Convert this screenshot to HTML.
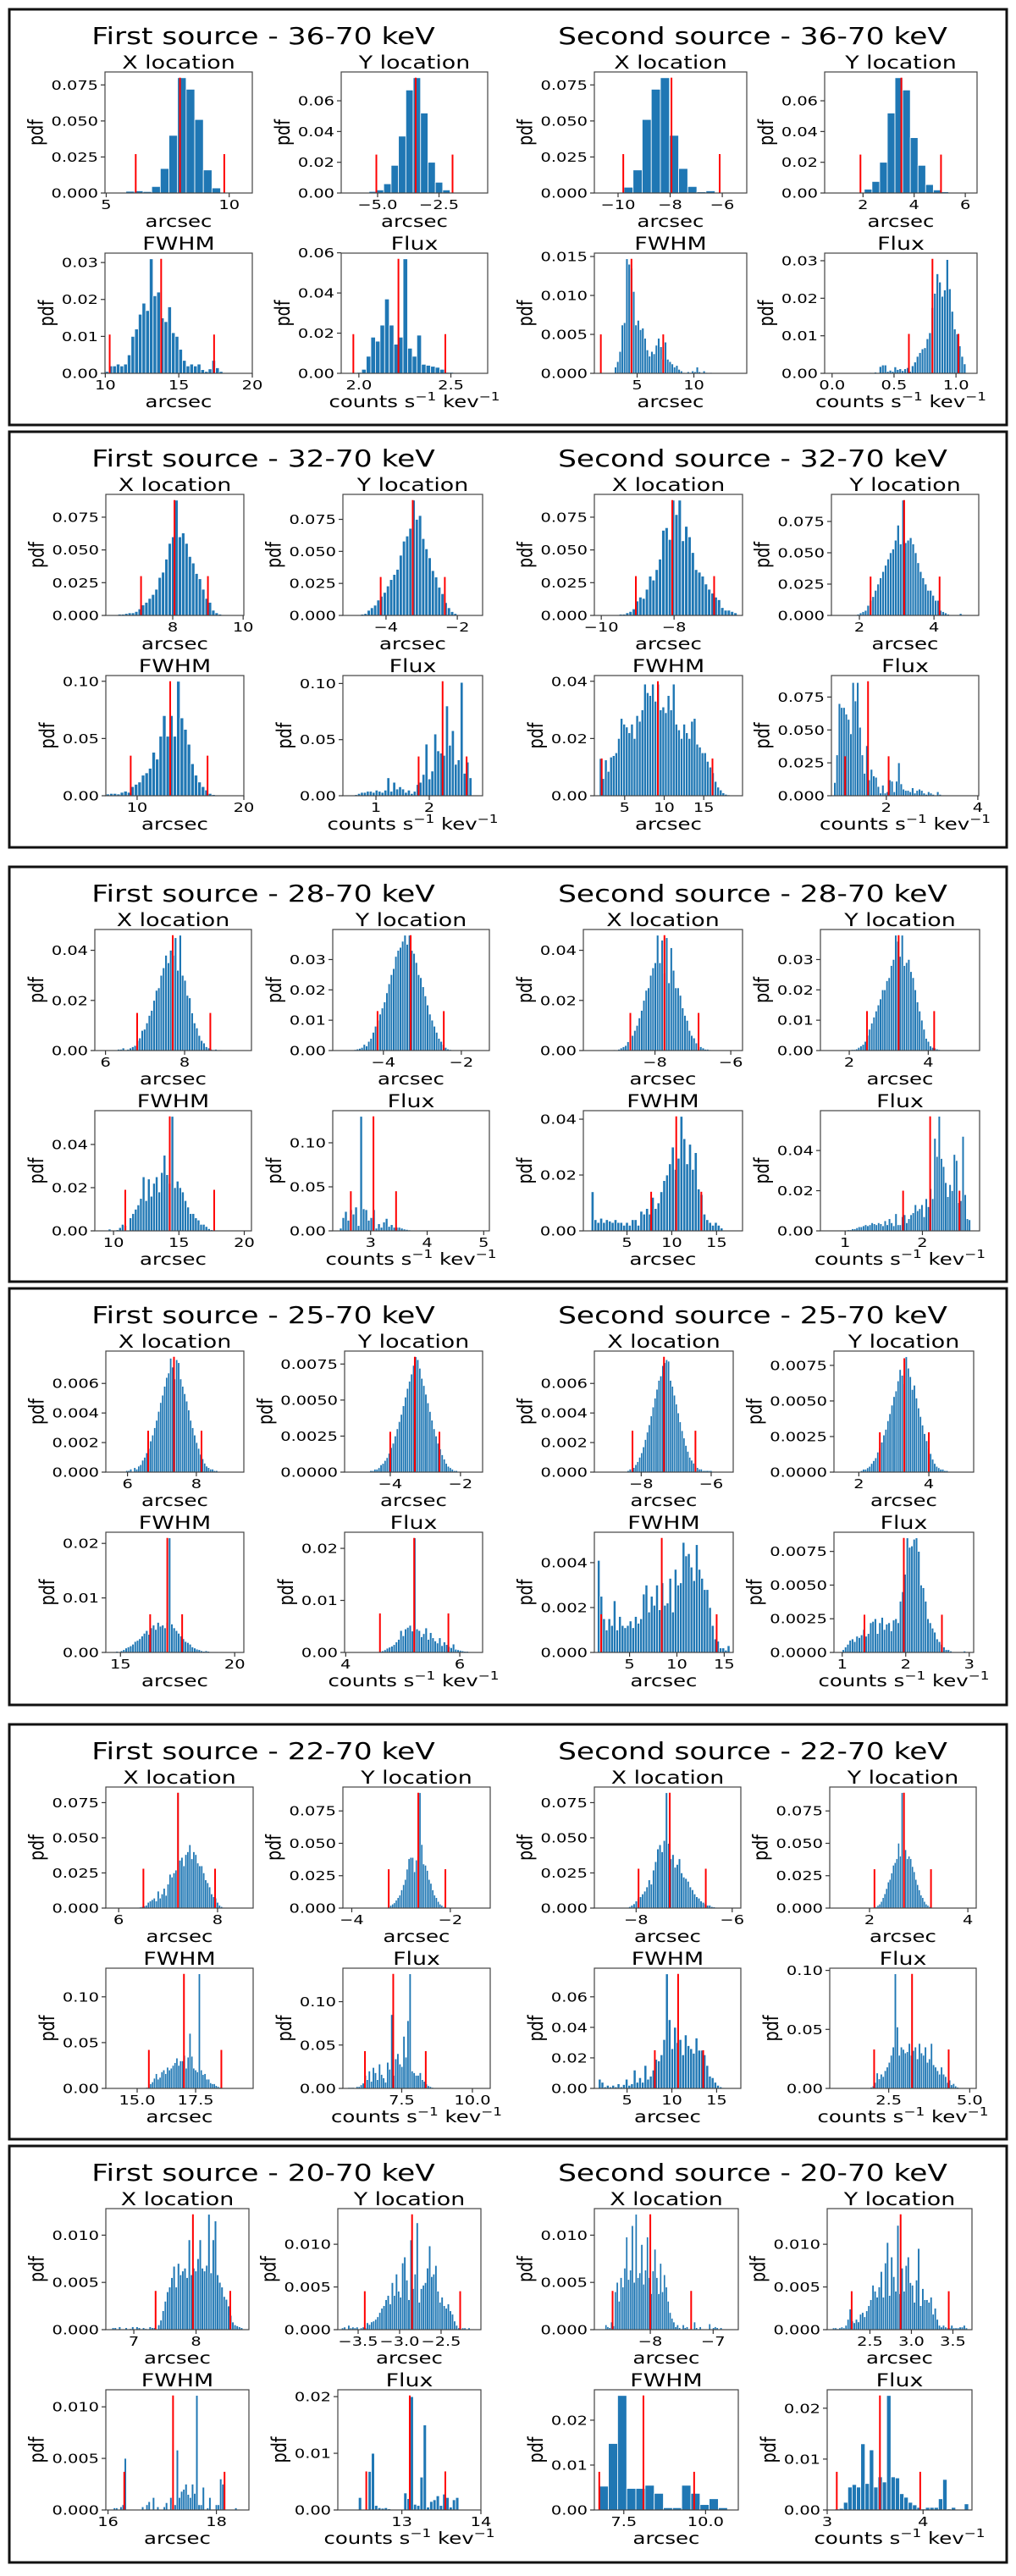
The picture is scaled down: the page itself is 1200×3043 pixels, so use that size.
<!DOCTYPE html>
<html><head><meta charset="utf-8"><style>
html,body{margin:0;padding:0;background:#fff;}
svg text{font-family:"DejaVu Sans","Liberation Sans",sans-serif;fill:#000;}
</style></head><body>
<svg id="fig" xmlns="http://www.w3.org/2000/svg" width="1200" height="3038" viewBox="0 0 1200 3038"></svg>
<script>
// ---------- Box 1 : 36-70 keV ----------
var b1a_h=[.0005,.0012,.0015,.001,.0045,.017,.04,.08,.072,.051,.016,.0035,0,.0003];
var b1a_bin=[5.45,.35]; var b1a_red=[6.2,8.0,9.8]; var b1a_redH=[.027,.08,.027]; var b1a_xlim=[4.95,10.94]; var b1a_xt=[5,10]; var b1a_yt=[0,.025,.05,.075];
var b1b_h=[.001,.002,.006,.018,.037,.067,.075,.052,.02,.007,.002];
var b1b_bin=[-5.35,.3]; var b1b_red=[-5.05,-3.45,-1.95]; var b1b_redH=[.025,.075,.025]; var b1b_xlim=[-6.48,-0.52]; var b1b_xt=[-5.0,-2.5]; var b1b_yt=[0,.02,.04,.06];
var b1c_h=[.0005,.002,.002,.0025,.002,.0025,.005,.01,.012,.016,.019,.017,.031,.021,.022,.015,.014,.018,.011,.01,.0065,.0035,.002,.0025,.002,.0025,.001,.0005,.0012,.0035,.0015,.0005,.0002,.0001,0,.0001];
var b1c_bin=[10,.25]; var b1c_red=[10.3,13.8,17.4]; var b1c_redH=[.0105,.031,.0105]; var b1c_xlim=[9.98,20.0]; var b1c_xt=[10,15,20]; var b1c_yt=[0,.01,.02,.03];
var b1d_h=[.0005,.002,.0085,.018,.016,.024,.037,.024,.0145,.018,.057,.0125,.0085,.019,.0045,.004,.0035,.003,.002,.0005,.0005,.0003];
var b1d_bin=[1.99,.025]; var b1d_red=[1.97,2.215,2.47]; var b1d_redH=[.0195,.057,.0195]; var b1d_xlim=[1.904,2.70]; var b1d_xt=[2.0,2.5]; var b1d_yt=[0,.02,.04,.06];
var b1e_h=[.004,.016,.051,.072,.08,.04,.017,.0045,.0008,.0015,.0005];
var b1e_bin=[-9.775,.35]; var b1e_red=[-9.8,-7.95,-6.1]; var b1e_redH=[.027,.08,.027]; var b1e_xlim=[-10.91,-5.06]; var b1e_xt=[-10,-8,-6]; var b1e_yt=[0,.025,.05,.075];
var b1f_h=[.0005,.0025,.0075,.02,.052,.075,.067,.036,.018,.0055,.002,.0008];
var b1f_bin=[1.75,.3]; var b1f_red=[1.9,3.5,5.05]; var b1f_redH=[.025,.075,.025]; var b1f_xlim=[0.5,6.46]; var b1f_xt=[2,4,6]; var b1f_yt=[0,.02,.04,.06];
var b1g_h=[.0008,.0015,.0028,.0062,.0065,.0147,.014,.0135,.0105,.0062,.0068,.0056,.0058,.0045,.003,.0022,.0028,.0025,.0036,.0045,.0034,.0018,.004,.0018,.0015,.0012,.0008,.001,.0005,.0003,.0001,0,.0002,.0001,.0003,.0002,.0008,.0002,.0001,.0003,.0001,0,.0001];
var b1g_bin=[3.0,.2]; var b1g_red=[1.8,4.5,7.3]; var b1g_redH=[.005,.0147,.005]; var b1g_xlim=[1.23,14.66]; var b1g_xt=[5,10]; var b1g_yt=[0,.005,.01,.015];
var b1h_h=[.0002,0,.0003,0,.0018,.0022,.0022,.0005,.0008,.0005,.0017,.001,.0012,.0007,.0012,.0015,.0005,.002,.003,.0045,.0055,.0065,.0068,.0092,.0108,.0175,.0213,.0265,.0243,.0205,.0222,.0303,.0225,.0165,.0118,.0105,.0073,.0045,.0025];
var b1h_bin=[0.3,.02]; var b1h_red=[0.62,0.81,1.02]; var b1h_redH=[.0105,.0305,.0105]; var b1h_xlim=[-0.06,1.17]; var b1h_xt=[0.0,0.5,1.0]; var b1h_yt=[0,.01,.02,.03];
// ---------- Box 2 : 32-70 keV ----------
var b2a_h=[.0005,.001,.001,.0015,.002,.002,.003,.005,.008,.01,.013,.016,.02,.029,.033,.043,.055,.06,.088,.06,.063,.055,.045,.04,.032,.028,.02,.013,.01,.004,.002,.001,.0005,.0003];
var b2a_bin=[6.35,.095]; var b2a_red=[7.1,8.05,9.0]; var b2a_redH=[.03,.088,.03]; var b2a_xlim=[6.1,10.02]; var b2a_xt=[8,10]; var b2a_yt=[0,.025,.05,.075];
var b2b_h=[.0005,.001,.0015,.004,.006,.008,.012,.015,.018,.023,.028,.032,.036,.047,.058,.062,.068,.09,.075,.078,.06,.052,.045,.035,.03,.022,.017,.01,.006,.003,.0015,.0005];
var b2b_bin=[-4.8,.09]; var b2b_red=[-4.15,-3.25,-2.35]; var b2b_redH=[.03,.09,.03]; var b2b_xlim=[-5.21,-1.29]; var b2b_xt=[-4,-2]; var b2b_yt=[0,.025,.05,.075];
var b2c_h=[.0015,.002,.002,.0015,.003,.004,.003,.008,.01,.012,.018,.02,.024,.038,.032,.052,.07,.052,.07,.052,.1,.068,.058,.045,.028,.018,.012,.008,.005,.002,.001,.0005,.0003];
var b2c_bin=[7.1,.33]; var b2c_red=[9.4,13.1,16.6]; var b2c_redH=[.035,.1,.035]; var b2c_xlim=[7.07,20.0]; var b2c_xt=[10,20]; var b2c_yt=[0,.05,.10];
var b2d_h=[.001,.002,.003,.003,.004,.004,.003,.005,.004,.003,.005,.016,.004,.012,.006,.008,.006,.003,.005,.002,.004,.01,.012,.019,.046,.015,.022,.055,.04,.038,.036,.08,.045,.058,.028,.032,.101,.02,.03,.016];
var b2d_bin=[0.6,.055]; var b2d_red=[1.8,2.25,2.7]; var b2d_redH=[.035,.102,.035]; var b2d_xlim=[0.38,3.0]; var b2d_xt=[1,2]; var b2d_yt=[0,.05,.10];
var b2e_h=[.0005,.001,.001,.002,.003,.005,.011,.014,.013,.02,.03,.027,.035,.043,.065,.067,.058,.088,.077,.088,.057,.068,.06,.048,.035,.033,.03,.024,.02,.017,.014,.012,.006,.004,.004,.003,.002];
var b2e_bin=[-9.6,.09]; var b2e_red=[-9.05,-8.05,-6.9]; var b2e_redH=[.03,.088,.03]; var b2e_xlim=[-10.19,-6.12]; var b2e_xt=[-10,-8]; var b2e_yt=[0,.025,.05,.075];
var b2f_h=[.0003,.0005,.001,.002,.003,.004,.008,.012,.015,.02,.025,.03,.035,.04,.045,.05,.053,.06,.072,.057,.092,.058,.06,.062,.057,.05,.042,.035,.03,.025,.02,.02,.016,.012,.012,.004,.003,.002,.001,0,0,0,0,.0015];
var b2f_bin=[1.8,.067]; var b2f_red=[2.3,3.2,4.15]; var b2f_redH=[.031,.092,.031]; var b2f_xlim=[1.25,5.2]; var b2f_xt=[2,4]; var b2f_yt=[0,.025,.05,.075];
var b2g_h=[.013,.006,.0125,.0085,.0135,.014,.015,.02,.027,.025,.024,.022,.025,.02,.028,.026,.03,.039,.036,.035,.039,.033,.039,.03,.031,.029,.035,.03,.039,.025,.023,.02,.025,.022,.02,.026,.027,.018,.017,.015,.015,.012,.01,.008,.005,.003,.002,.001,.0005,.0003];
var b2g_bin=[1.8,.33]; var b2g_red=[2.1,9.2,16.1]; var b2g_redH=[.013,.04,.013]; var b2g_xlim=[1.17,19.9]; var b2g_xt=[5,10,15]; var b2g_yt=[0,.02,.04];
var b2h_h=[.01,.031,.07,.067,.067,.062,.058,.047,.086,.072,.086,.052,.031,.017,.038,.012,.02,.015,.014,.007,.002,.008,.002,.003,.012,.011,.003,.011,.025,.009,.005,.004,.004,.003,.006,.002,.004,.005,.004,.002,.001,.003,.002,.001,0,.003,.001];
var b2h_bin=[0.85,.05]; var b2h_red=[1.1,1.6,2.05]; var b2h_redH=[.03,.087,.03]; var b2h_xlim=[0.8,4.02]; var b2h_xt=[2,4]; var b2h_yt=[0,.025,.05,.075];
// ---------- Box 3 : 28-70 keV ----------
var b3a_h=[.0005,.0005,.001,0,.0005,.001,.0015,.002,.004,.005,.008,.0085,.011,.014,.016,.02,.024,.025,.03,.033,.038,.035,.04,.038,.045,.032,.046,.03,.028,.022,.021,.015,.011,.009,.006,.004,.003,.0015,.001,.0005,.0003,.0005,0,.0003];
var b3a_bin=[6.3,.06]; var b3a_red=[6.8,7.7,8.65]; var b3a_redH=[.015,.046,.015]; var b3a_xlim=[5.73,9.69]; var b3a_xt=[6,8]; var b3a_yt=[0,.02,.04];
var b3b_h=[.0003,.0005,.0007,.001,.002,.0015,.003,.004,.006,.008,.01,.012,.014,.016,.019,.022,.025,.027,.031,.033,.034,.036,.038,.035,.038,.033,.032,.029,.025,.024,.021,.018,.015,.012,.01,.008,.006,.004,.003,.002,.001,.0005,.0003];
var b3b_bin=[-4.75,.058]; var b3b_red=[-4.15,-3.3,-2.45]; var b3b_redH=[.013,.038,.013]; var b3b_xlim=[-5.3,-1.28]; var b3b_xt=[-4,-2]; var b3b_yt=[0,.01,.02,.03];
var b3c_h=[.0008,0,0,.0005,.0015,.003,.0025,0,.006,.008,.01,.012,.015,.025,.014,.024,.016,.022,.025,.018,.027,.035,.026,.022,.053,.02,.023,.02,.018,.014,.011,.008,.008,.006,.005,.003,.003,.002,.001,.0005,.0005,.0003,.0002];
var b3c_bin=[9.6,.2]; var b3c_red=[10.9,14.3,17.7]; var b3c_redH=[.019,.053,.019]; var b3c_xlim=[8.57,20.55]; var b3c_xt=[10,15,20]; var b3c_yt=[0,.02,.04];
var b3d_h=[.003,.015,.022,.012,.024,.019,.027,.006,.13,.025,.024,.012,.015,.024,.003,.008,.004,.01,.014,.005,.007,.004,.004,.004,.003,.002,.0015,.001,.0008,.0005,.0003,.0002,.0002,.0001];
var b3d_bin=[2.45,.045]; var b3d_red=[2.65,3.05,3.45]; var b3d_redH=[.045,.13,.045]; var b3d_xlim=[2.33,5.1]; var b3d_xt=[3,4,5]; var b3d_yt=[0,.05,.10];
var b3e_h=[.0003,0,.0005,.001,.0015,.002,.0035,.004,.006,.008,.01,.013,.016,.02,.024,.025,.03,.033,.035,.046,.035,.044,.031,.045,.027,.041,.032,.025,.025,.022,.017,.014,.012,.008,.006,.005,.003,.002,.0015,.001,.0005,.0005,.0003];
var b3e_bin=[-9.1,.06]; var b3e_red=[-8.65,-7.75,-6.85]; var b3e_redH=[.015,.046,.015]; var b3e_xlim=[-9.89,-5.69]; var b3e_xt=[-8,-6]; var b3e_yt=[0,.02,.04];
var b3f_h=[.0003,.0003,.0005,.001,.0015,.002,.003,.005,.007,.009,.011,.013,.015,.017,.02,.02,.023,.024,.028,.03,.038,.036,.031,.038,.028,.029,.03,.026,.024,.02,.016,.013,.01,.007,.004,.003,.0015,.001,.0008,.0005,.0003,.0002,0,.0002];
var b3f_bin=[2.05,.055]; var b3f_red=[2.45,3.25,4.15]; var b3f_redH=[.013,.038,.013]; var b3f_xlim=[1.27,5.3]; var b3f_xt=[2,4]; var b3f_yt=[0,.01,.02,.03];
var b3g_h=[.014,.004,.003,.0045,.003,.004,.0035,.003,.004,.003,.003,.002,.003,.002,.004,.004,.002,.007,.006,.008,.006,.012,.008,.01,.014,.018,.02,.024,.03,.022,.026,.041,.033,.024,.031,.022,.028,.015,.013,.006,.004,.003,.002,.003,.002,.001];
var b3g_bin=[1.0,.32]; var b3g_red=[7.7,10.5,13.3]; var b3g_redH=[.014,.041,.014]; var b3g_xlim=[0.13,17.9]; var b3g_xt=[5,10,15]; var b3g_yt=[0,.02,.04];
var b3h_h=[.0003,.0005,.0005,.001,.001,.0015,.002,.002,.0025,.003,.0025,.003,.004,.0035,.003,.004,.0035,.0025,.005,.003,.006,.004,.0025,.0085,.003,.003,.007,.008,.004,.006,.008,.009,.013,.01,.011,.013,.007,.016,.012,.021,.016,.046,.037,.057,.036,.032,.024,.017,.023,.02,.038,.035,.014,.015,.047,.018,.006,.0055];
var b3h_bin=[1.0,.028]; var b3h_red=[1.75,2.1,2.48]; var b3h_redH=[.02,.057,.02]; var b3h_xlim=[0.68,2.74]; var b3h_xt=[1,2]; var b3h_yt=[0,.02,.04];
// ---------- Box 4 : 25-70 keV ----------
var b4a_h=[.0001,.0001,.0002,0,.0003,.0002,.0004,.0005,.0008,.001,.0013,.0016,.0021,.0025,.003,.0035,.0041,.0047,.0052,.0058,.0064,.0067,.0077,.0071,.0063,.0076,.0074,.0063,.0058,.0053,.0048,.0042,.0035,.003,.0025,.002,.0016,.0012,.0009,.0006,.0004,.0003,.0002,.0002,.0001,.0001];
var b4a_bin=[5.95,.058]; var b4a_red=[6.6,7.35,8.15]; var b4a_redH=[.0028,.0078,.0028]; var b4a_xlim=[5.37,9.38]; var b4a_xt=[6,8]; var b4a_yt=[0,.002,.004,.006];
var b4b_h=[.0001,.0001,.0002,.0002,.0003,.0005,.0006,.0008,.001,.0013,.0017,.002,.0025,.003,.0035,.004,.0046,.0052,.0058,.0063,.0068,.0074,.008,.0078,.0072,.0065,.006,.0054,.0048,.0042,.0036,.003,.0025,.002,.0016,.0012,.0009,.0006,.0004,.0003,.0002,.0001,.0001];
var b4b_bin=[-4.58,.058]; var b4b_red=[-4.0,-3.3,-2.6]; var b4b_redH=[.0028,.008,.0028]; var b4b_xlim=[-5.3,-1.37]; var b4b_xt=[-4,-2]; var b4b_yt=[0,.0025,.005,.0075];
var b4c_h=[.0001,.0002,.0001,.0003,.0005,.0008,.001,.0012,.0015,.002,.0022,.0025,.003,.0035,.004,.0033,.0045,.005,.0042,.0055,.0048,.005,.0045,.0055,.021,.0052,.0045,.004,.0035,.003,.0025,.002,.0018,.0015,.001,.0008,.0006,.0005,.0003,.0002,.0003,.0002,.0001,.0001,.0001,.0001];
var b4c_bin=[14.7,.1]; var b4c_red=[16.3,17.05,17.7]; var b4c_redH=[.007,.021,.007]; var b4c_xlim=[14.36,20.4]; var b4c_xt=[15,20]; var b4c_yt=[0,.01,.02];
var b4d_h=[.0001,.0002,.0003,.0005,.0008,.001,.0012,.0015,.002,.0025,.0042,.0032,.0045,.0048,.0052,.0041,.022,.0045,.0042,.003,.0036,.0047,.0025,.0038,.0028,.0022,.0018,.0028,.0013,.002,.0015,.0011,.0009,.0016,.0006,.0005,.0004,.0003,.0002,.0002];
var b4d_bin=[4.55,.04]; var b4d_red=[4.6,5.2,5.8]; var b4d_redH=[.0075,.022,.0075]; var b4d_xlim=[3.98,6.4]; var b4d_xt=[4,6]; var b4d_yt=[0,.01,.02];
var b4e_h=[.0001,.0002,.0002,.0003,.0005,.0007,.001,.0013,.0017,.0022,.0027,.0032,.0038,.0044,.005,.0056,.0062,.0065,.0072,.0074,.0076,.0075,.0062,.0058,.0052,.0046,.004,.0034,.0028,.0023,.0018,.0014,.001,.0008,.0006,.0004,.0003,.0002,.0002,.0001,.0001,.0001,.0001,.0001,0];
var b4e_bin=[-8.4,.055]; var b4e_red=[-8.25,-7.35,-6.45]; var b4e_redH=[.0028,.0078,.0028]; var b4e_xlim=[-9.34,-5.37]; var b4e_xt=[-8,-6]; var b4e_yt=[0,.002,.004,.006];
var b4f_h=[.0001,.0002,.0002,.0003,.0004,.0006,.0008,.001,.0014,.0017,.0021,.0026,.003,.0036,.0041,.0047,.0053,.0057,.0064,.0072,.0068,.0062,.0081,.0073,.0067,.0058,.0061,.0052,.0045,.0039,.0033,.0027,.0022,.0017,.0013,.0009,.0006,.0004,.0003,.0002,.0002,.0001,.0001];
var b4f_bin=[2.05,.058]; var b4f_red=[2.6,3.3,4.0]; var b4f_redH=[.0028,.008,.0028]; var b4f_xlim=[1.29,5.28]; var b4f_xt=[2,4]; var b4f_yt=[0,.0025,.005,.0075];
var b4g_h=[.0041,.0025,.0015,.001,.0015,.0012,.0023,.001,.0016,.0012,.0011,.0012,.0014,.0011,.0016,.0013,.0015,.0026,.003,.0018,.0025,.0021,.003,.0019,.0031,.0021,.0022,.0033,.0018,.0037,.003,.0031,.0049,.0043,.0044,.0038,.0032,.0048,.0037,.0033,.0028,.0028,.002,.0012,.0006,.0005,.0002,.0002,.0001,.0003];
var b4g_bin=[1.6,.28]; var b4g_red=[2.0,8.4,14.2]; var b4g_redH=[.0017,.0051,.0017]; var b4g_xlim=[1.28,15.95]; var b4g_xt=[5,10,15]; var b4g_yt=[0,.002,.004];
var b4h_h=[.0002,.0004,.0006,.0009,.001,.0008,.0012,.0011,.0013,.0017,.0012,.0014,.0022,.0023,.0025,.0014,.0022,.0026,.0017,.0021,.0022,.0016,.0024,.0025,.0022,.0038,.0045,.0058,.0085,.0078,.0079,.0084,.0085,.0075,.005,.0048,.0038,.0025,.0022,.0018,.0015,.001,.0008,.0006,.0004,.0002,.0002,.0001,0,0,0,0,0,.0001];
var b4h_bin=[1.0,.036]; var b4h_red=[1.35,1.97,2.57]; var b4h_redH=[.0028,.0085,.0028]; var b4h_xlim=[0.87,3.07]; var b4h_xt=[1,2,3]; var b4h_yt=[0,.0025,.005,.0075];
// ---------- Box 5 : 22-70 keV ----------
var b5a_h=[.0003,.0003,.0005,.0007,.001,.0015,.002,.004,.005,.006,.007,.005,.012,.007,.01,.014,.009,.017,.024,.022,.025,.027,.082,.034,.036,.03,.038,.04,.045,.035,.04,.038,.032,.03,.03,.025,.02,.018,.015,.01,.008,.007,.004,.002,.001,.0005,.0003];
var b5a_bin=[6.3,.04]; var b5a_red=[6.5,7.2,7.95]; var b5a_redH=[.028,.082,.028]; var b5a_xlim=[5.74,8.72]; var b5a_xt=[6,8]; var b5a_yt=[0,.025,.05,.075];
var b5b_h=[.0005,.001,.002,.003,.004,.006,.008,.01,.014,.018,.022,.03,.038,.039,.039,.028,.037,.04,.089,.049,.034,.033,.029,.022,.019,.014,.01,.008,.005,.003,.002,.001,.0005,.0003];
var b5b_bin=[-3.3,.037]; var b5b_red=[-3.25,-2.65,-2.1]; var b5b_redH=[.03,.089,.03]; var b5b_xlim=[-4.18,-1.19]; var b5b_xt=[-4,-2]; var b5b_yt=[0,.025,.05,.075];
var b5c_h=[.0005,.001,.002,.005,.007,.011,.016,.01,.012,.018,.02,.016,.023,.02,.022,.025,.028,.033,.025,.03,.03,.036,.022,.034,.06,.035,.022,.02,.018,.125,.02,.015,.016,.01,.01,.006,.005,.005,.003,.002,.001,.0008,.0005,.0003];
var b5c_bin=[15.3,.08]; var b5c_red=[15.5,17.0,18.6]; var b5c_redH=[.042,.125,.042]; var b5c_xlim=[13.66,19.96]; var b5c_xt=[15.0,17.5]; var b5c_yt=[0,.05,.10];
var b5d_h=[.001,.001,.001,.0005,.002,.002,.004,.006,.015,.01,.02,.008,.024,.018,.01,.028,.016,.012,.007,.03,.022,.085,.015,.034,.04,.028,.025,.06,.036,.078,.132,.02,.018,.015,.015,.018,.01,.008,.005,.003,.002,.001,.0005];
var b5d_bin=[5.6,.072]; var b5d_red=[6.2,7.2,8.35]; var b5d_redH=[.043,.132,.043]; var b5d_xlim=[5.42,10.63]; var b5d_xt=[7.5,10.0]; var b5d_yt=[0,.05,.10];
var b5e_h=[.0005,.001,.002,.003,.005,.007,.008,.01,.012,.015,.02,.017,.027,.033,.042,.045,.04,.048,.082,.046,.035,.038,.029,.031,.035,.025,.022,.021,.019,.015,.013,.01,.008,.007,.005,.004,.003,.002,.002,.001,.0008,.0005,.0003];
var b5e_bin=[-8.2,.045]; var b5e_red=[-7.95,-7.3,-6.55]; var b5e_redH=[.028,.082,.028]; var b5e_xlim=[-8.87,-5.82]; var b5e_xt=[-8,-6]; var b5e_yt=[0,.025,.05,.075];
var b5f_h=[.0005,.0005,.001,.002,.003,.005,.008,.011,.015,.02,.022,.027,.033,.035,.038,.05,.04,.089,.088,.045,.038,.04,.038,.032,.028,.022,.018,.014,.01,.008,.005,.003,.002,.001,.0005,.0003,.0002,.0001,0,.0002];
var b5f_bin=[2.05,.035]; var b5f_red=[2.1,2.7,3.25]; var b5f_redH=[.03,.089,.03]; var b5f_xlim=[1.19,4.17]; var b5f_xt=[2,4]; var b5f_yt=[0,.025,.05,.075];
var b5g_h=[.006,.004,.001,.002,.001,.002,.001,.003,.001,.0025,.006,.002,.003,.012,.004,.007,.004,.015,.006,.008,.012,.019,.018,.022,.032,.075,.045,.026,.04,.03,.032,.022,.035,.028,.026,.023,.033,.025,.025,.022,.015,.008,.007,.004,.002,.001,.0005];
var b5g_bin=[1.8,.3]; var b5g_red=[8.1,10.7,13.5]; var b5g_redH=[.025,.075,.025]; var b5g_xlim=[1.35,17.7]; var b5g_xt=[5,10,15]; var b5g_yt=[0,.02,.04,.06];
var b5h_h=[.0003,0,0,0,0,0,0,0,0,0,0,0,0,0,0,.001,.002,.005,.013,.008,.012,.01,.015,.018,.022,.028,.035,.097,.052,.028,.035,.033,.03,.031,.038,.028,.032,.035,.025,.038,.03,.028,.035,.022,.025,.038,.02,.018,.015,.012,.018,.012,.01,.005,.007,.003,.004,.002,.001,.0005,.0002,.0001,0];
var b5h_bin=[1.0,.062]; var b5h_red=[2.05,3.22,4.35]; var b5h_redH=[.033,.097,.033]; var b5h_xlim=[0.68,5.2]; var b5h_xt=[2.5,5.0]; var b5h_yt=[0,.05,.10];
// ---------- Box 6 : 20-70 keV ----------
var b6a_h=[.0002,.0002,0,.0003,0,0,.0002,0,.0001,.0003,0,.0003,.0002,0,.0002,.0001,0,.0003,.0002,.0002,0,.0005,.001,.002,.003,.004,.0045,.0055,.0067,.0045,.007,.0058,.0062,.0065,.0055,.0095,.0058,.0065,.0062,.0075,.0095,.0065,.0062,.0068,.0122,.006,.0095,.0115,.0058,.005,.0045,.0035,.0032,.0025,.0015,.0008,.0005,.0004,.0003,.0002];
var b6a_bin=[6.65,.035]; var b6a_red=[7.35,7.95,8.55]; var b6a_redH=[.0041,.0122,.0041]; var b6a_xlim=[6.55,8.85]; var b6a_xt=[7,8]; var b6a_yt=[0,.005,.01];
var b6b_h=[.0002,.0003,0,.0005,.0002,.0003,.0002,.0003,0,.0002,.0003,.0002,.0008,.0006,.0009,.001,.0012,.0015,.002,.0025,.0028,.0035,.004,.003,.0055,.004,.0065,.0045,.0038,.0078,.0085,.0058,.0035,.0105,.0048,.0065,.0125,.0032,.0048,.0052,.0055,.0072,.0098,.0062,.0065,.0075,.0045,.0032,.0038,.0028,.0025,.003,.0022,.0018,.001,.0005,.0002,.0001,.0002,.0002,0,.0002];
var b6b_bin=[-3.7,.025]; var b6b_red=[-3.42,-2.85,-2.27]; var b6b_redH=[.0045,.0135,.0045]; var b6b_xlim=[-3.745,-2.02]; var b6b_xt=[-3.5,-3.0,-2.5]; var b6b_yt=[0,.005,.01];
var b6c_h=[.0002,.0002,0,.0003,.0005,.005,0,0,0,0,0,0,0,.0003,0,.0005,.0008,0,.0012,0,.0003,0,0,.0003,.0007,0,.0012,.0005,.0005,.0058,.0012,.0018,.002,.0025,.0015,.0012,.0025,.0016,.0111,.0005,.0005,.0022,0,.0002,.0012,0,0,.0005,.0005,.003,.0025,0,0,0,0,0,.0002,0,0,0,0];
var b6c_bin=[16.1,.04]; var b6c_red=[16.3,17.2,18.15]; var b6c_redH=[.0037,.0111,.0037]; var b6c_xlim=[15.96,18.6]; var b6c_xt=[16,18]; var b6c_yt=[0,.005,.01];
var b6d_h=[.0022,0,0,.0068,.01,.0008,.0004,.0003,.0004,.0002,0,.0001,0,0,.003,.002,.02,.001,.0008,.0058,.015,.0005,.0015,.0018,.0025,.0008,.0028,.0022,.0005,.0018,.0022];
var b6d_bin=[12.45,.041]; var b6d_red=[12.55,13.1,13.55]; var b6d_redH=[.0068,.0202,.0068]; var b6d_xlim=[12.19,14.0]; var b6d_xt=[13,14]; var b6d_yt=[0,.01,.02];
var b6e_h=[.0005,.0003,.0002,.0008,.0004,.004,.005,.003,.0055,.0045,.0065,.0098,.0053,.0063,.011,.005,.0122,.0055,.006,.009,.0048,.0063,.0098,.0055,.0038,.0062,.0085,.0055,.0038,.007,.004,.0058,.0045,.003,.0018,.0012,.0008,.0003,.0005,.0002,0,.0005,.0002,.0003,0,0,0,.0008,.0002,0,.0003,0,0,0,0,.0006,0,.0002,.0003,.0002,0,.0002];
var b6e_bin=[-8.72,.03]; var b6e_red=[-8.6,-8.0,-7.35]; var b6e_redH=[.0041,.0122,.0041]; var b6e_xlim=[-8.89,-6.6]; var b6e_xt=[-8,-7]; var b6e_yt=[0,.005,.01];
var b6f_h=[.0002,.0002,.0001,.0002,.0003,.0002,.0005,.0012,.0024,.001,.0008,.0012,.0009,.0018,.002,.0015,.0022,.0028,.0035,.0052,.0045,.0038,.005,.0068,.0038,.0078,.0102,.004,.0085,.0062,.0045,.0122,.0042,.0072,.0045,.0075,.0085,.0055,.0052,.0032,.0058,.0095,.0028,.0048,.0035,.0035,.0032,.0038,.0018,.0025,.0012,.0005,.0003,.0005,.0003,.0002,.0002,.0005,.0002,.0002,.0002,.0003,.0003,.0005,.0002];
var b6f_bin=[2.05,.025]; var b6f_red=[2.28,2.87,3.45]; var b6f_redH=[.0045,.0135,.0045]; var b6f_xlim=[1.985,3.73]; var b6f_xt=[2.5,3.0,3.5]; var b6f_yt=[0,.005,.01];
var b6g_h=[.0053,.0148,.0255,.0048,.0048,.0055,.0037,.0005,.0005,.0055,.0037,.0012,.0025,.0005];
var b6g_bin=[6.75,.28]; var b6g_red=[6.75,8.1,9.65]; var b6g_redH=[.0085,.0255,.0085]; var b6g_xlim=[6.6,11.0]; var b6g_xt=[7.5,10.0]; var b6g_yt=[0,.01,.02];
var b6h_h=[.0002,.0003,.0015,.0045,.005,.0045,.013,.0052,.0118,.0045,.0065,.0055,.0225,.0065,.0063,.0032,.0025,.0015,.001,.0005,.0002,.0005,.0005,.0005,.0022,.006,.0002,.0005,0,0,.0012];
var b6h_bin=[3.08,.045]; var b6h_red=[3.1,3.55,3.97]; var b6h_redH=[.0075,.0225,.0075]; var b6h_xlim=[3.0,4.51]; var b6h_xt=[3,4]; var b6h_yt=[0,.01,.02];

// ---------- layout ----------
const BOX_TOP=[11,510,1024,1522,2037,2535];
const BOX_BOT=[502,1001,1514,2014,2527,3027];
const BANDS=["36-70","32-70","28-70","25-70","22-70","20-70"];
const AXCOLS=[
 [[124,298],[403,576],[702,882],[974,1154]],
 [[125,288],[405,570],[702,877],[982,1156]],
 [[112,297],[393,578],[689,877],[969,1157]],
 [[125,288],[407,570],[702,866],[985,1150]],
 [[125,299],[405,579],[702,875],[980,1153]],
 [[125,294],[399,568],[702,872],[977,1148]]];
const KEYS="abcdefgh";
const SUBT=["X location","Y location","FWHM","Flux","X location","Y location","FWHM","Flux"];
const COLI=[0,1,0,1,2,3,2,3], ROWI=[0,0,1,1,0,0,1,1];
const SX=1.25;
const NS="http://www.w3.org/2000/svg";
const svg=document.getElementById("fig");
function mk(tag,attrs,parent){const e=document.createElementNS(NS,tag);for(const k in attrs)e.setAttribute(k,attrs[k]);(parent||svg).appendChild(e);return e;}
function txt(parent,x,y,anchor,size){return mk("text",{x:0,y:0,"text-anchor":anchor,"font-size":size,transform:"translate("+x+","+y+") scale("+SX+",1)"},parent);}
function decs(arr){let d=0;arr.forEach(v=>{for(let k=0;k<7;k++){if(Math.abs(Math.round(v*Math.pow(10,k))-v*Math.pow(10,k))<1e-6){d=Math.max(d,k);break;}}});return d;}
function fmt(v,d){let s=Math.abs(v).toFixed(d);return (v<0?"\u2212":"")+s;}
function slug(s){return s.toLowerCase().replace(/[^a-z0-9]+/g,"-");}

for(let b=0;b<6;b++){
  const T=BOX_TOP[b];
  const g=mk("g",{});
  
  
  const fr=mk("rect",{x:11,y:T,width:1178,height:BOX_BOT[b]-T,fill:"none",stroke:"#111","stroke-width":3},g);
  
  
  ["First source","Second source"].forEach((src,si)=>{
    const t=txt(g,si?889:311,T+41,"middle",27.5);
    t.textContent=src+" - "+BANDS[b]+" keV";
    
    
  });
  for(let k=0;k<8;k++){
    const id="b"+(b+1)+KEYS[k];
    const H=window[id+"_h"],BIN=window[id+"_bin"],RED=window[id+"_red"],REDH=window[id+"_redH"],XL=window[id+"_xlim"],XT=window[id+"_xt"],YT=window[id+"_yt"];
    const [L,R]=AXCOLS[b][COLI[k]];
    const top=T+(ROWI[k]?288:74), bot=T+(ROWI[k]?430:217);
    const ymax=Math.max(Math.max.apply(null,H),Math.max.apply(null,REDH))*1.05;
    const xs=v=>L+(v-XL[0])/(XL[1]-XL[0])*(R-L);
    const ys=v=>bot-(v/ymax)*(bot-top);
    const ag=mk("g",{},g);
    
    
    const cp="cp"+id;
    const cpe=mk("clipPath",{id:cp},ag); mk("rect",{x:L,y:top,width:R-L,height:bot-top},cpe);
    const bars=mk("g",{"clip-path":"url(#"+cp+")"},ag);
    H.forEach((v,i)=>{
      if(v<=0)return;
      const x0=xs(BIN[0]+i*BIN[1]),x1=xs(BIN[0]+(i+1)*BIN[1]);
      const wpx=x1-x0;
      const r=mk("rect",{x:x0,y:ys(v),width:wpx,height:bot-ys(v),fill:"#1f77b4",stroke:"#fff","stroke-width":Math.min(0.8,wpx*0.22)},bars);
      
      
    });
    RED.forEach((v,i)=>{
      const l=mk("line",{x1:xs(v),x2:xs(v),y1:bot,y2:ys(REDH[i]),stroke:"#ff0000","stroke-width":2},bars);
      
      
    });
    const ax=mk("rect",{x:L,y:top,width:R-L,height:bot-top,fill:"none",stroke:"#444","stroke-width":1.2},ag);
    
    
    const st=txt(ag,(L+R)/2,top-4,"middle",21.5);
    st.textContent=SUBT[k];
    
    
    const yd=decs(YT); let maxw=0;
    YT.forEach(v=>{
      const y=ys(v);
      mk("line",{x1:L-5,x2:L,y1:y,y2:y,stroke:"#333","stroke-width":1.2},ag);
      const tl=txt(ag,L-8,y+5.5,"end",15.5);
      tl.textContent=fmt(v,yd);
      
      
      maxw=Math.max(maxw,tl.getComputedTextLength()*SX);
    });
    const xd=decs(XT);
    XT.forEach(v=>{
      const x=xs(v);
      mk("line",{x1:x,x2:x,y1:bot,y2:bot+5,stroke:"#333","stroke-width":1.2},ag);
      const tl=txt(ag,x,bot+19,"middle",15.5);
      tl.textContent=fmt(v,xd);
      
      
    });
    const yl=mk("text",{x:0,y:0,"text-anchor":"middle","font-size":24,transform:"translate("+(L-8-maxw-10)+","+((top+bot)/2)+") rotate(-90) scale(0.8,1)"},ag);
    yl.textContent="pdf";
    
    
    const xl=txt(ag,(L+R)/2,bot+40,"middle",19.5);
    
    
    if(SUBT[k]==="Flux"){
      xl.innerHTML='counts s<tspan font-size="13.5" dy="-8">\u22121</tspan><tspan dy="8"> kev</tspan><tspan font-size="13.5" dy="-8">\u22121</tspan>';
    } else xl.textContent="arcsec";
  }
}
</script>
</body></html>
